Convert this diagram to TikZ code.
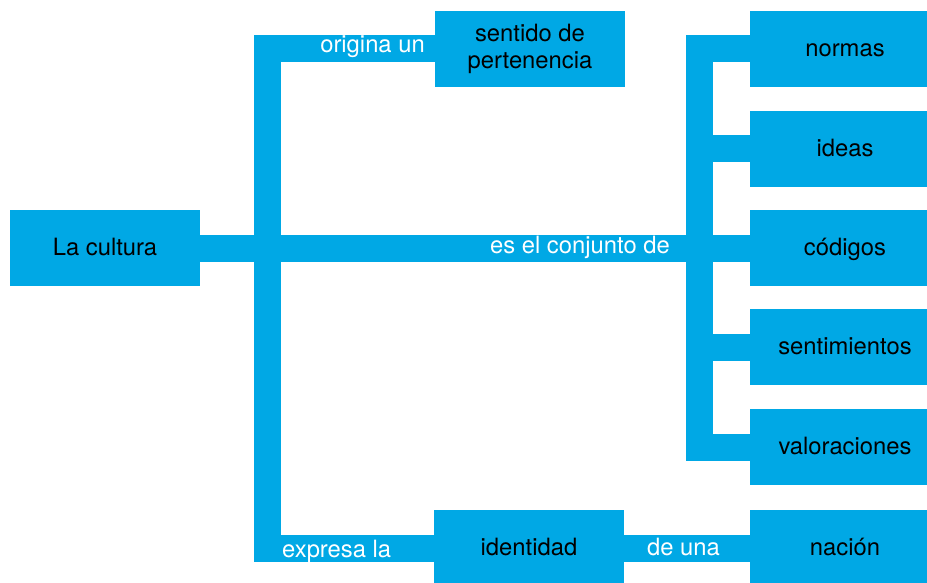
\documentclass[tikz,border=0pt]{standalone}
\usepackage{fontspec}
\setmainfont{TeX Gyre Heros}
\definecolor{cyanb}{RGB}{0,168,229}
\begin{document}
\begin{tikzpicture}[x=1pt,y=-1pt,
  box/.style={fill=cyanb, minimum width=190pt, minimum height=76pt, inner sep=0pt,
    text height=18pt, text depth=3.4pt, font=\fontsize{23.8}{27}\selectfont},
  twoline/.style={fill=cyanb, minimum width=190pt, minimum height=76pt, inner sep=0pt,
    font=\fontsize{23.8}{27.5}\selectfont},
  conn/.style={draw=cyanb, line width=27pt, line join=miter},
  lbl/.style={text=white, inner sep=0pt, font=\fontsize{23.8}{27}\selectfont}]
\clip (0,0) rectangle (927,583);
% boxes
\node[box] (cultura) at (105,248) {La cultura};
\node[twoline] (sentido) at (530,49) {\raisebox{-2.5pt}{\parbox{180pt}{\centering sentido de\\pertenencia}}};
\node[box] (identidad) at (529,548) {identidad};
\node[box] (normas) at (845,49) {normas};
\node[box] (ideas) at (845,149) {ideas};
\node[box] (codigos) at (845,248) {códigos};
\node[box] (sentim) at (845,347) {sentimientos};
\node[box] (valor) at (845,447) {valoraciones};
\node[box] (nacion) at (845,548) {nación};
% bar positions
\coordinate (lbar) at (267.5,0);
\coordinate (rbar) at (699,0);
% connectors
\draw[conn] (sentido.west) -- (lbar |- sentido.west) -- (lbar |- identidad.west) -- (identidad.west);
\draw[conn] (cultura) -- (codigos);
\draw[conn] (normas.west) -- (rbar |- normas.west) -- (rbar |- valor.west) -- (valor.west);
\draw[conn] (rbar |- ideas.west) -- (ideas.west);
\draw[conn] (rbar |- sentim.west) -- (sentim.west);
\draw[conn] (identidad) -- (nacion);
% connector labels
\node[lbl, anchor=base east] (l1) at (425,53) {origina un};
\node[lbl, anchor=base east] (l2) at (670,253) {es el conjunto de};
\node[lbl, anchor=base west] (l3) at (282,557) {expresa la};
\node[lbl, anchor=base] (l4) at (683.5,555) {de una};
\end{tikzpicture}
\end{document}
